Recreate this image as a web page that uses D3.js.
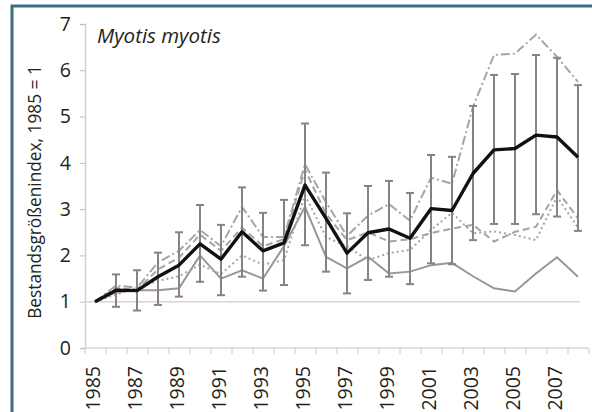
<!DOCTYPE html>
<html><head><meta charset="utf-8">
<script src="https://cdn.jsdelivr.net/npm/d3@7"></script>
<style>
html,body{margin:0;padding:0;background:#fff;}
svg{display:block;}
text{font-family:"Open Sans","Noto Sans",sans-serif;fill:#231f20;}
</style></head>
<body>
<svg id="chart" width="592" height="412"></svg>
<script>
const years = d3.range(1985, 2009);
const tickYears = [1985,1987,1989,1991,1993,1995,1997,1999,2001,2003,2005,2007];
const yTicks = [0,1,2,3,4,5,6,7];
const meanIndex = [1, 1.25, 1.24, 1.54, 1.79, 2.25, 1.92, 2.51, 2.1, 2.27, 3.52, 2.8, 2.05, 2.49, 2.57, 2.37, 3.01, 2.97, 3.77, 4.28, 4.31, 4.6, 4.56, 4.12];
const upperCI = [null, 1.59, 1.68, 2.06, 2.5, 3.09, 2.66, 3.47, 2.92, 3.2, 4.85, 3.79, 2.91, 3.5, 3.61, 3.35, 4.17, 4.13, 5.23, 5.9, 5.92, 6.33, 6.27, 5.68];
const lowerCI = [null, 0.89, 0.81, 0.93, 1.11, 1.43, 1.14, 1.54, 1.24, 1.36, 2.22, 1.65, 1.18, 1.47, 1.54, 1.38, 1.83, 1.81, 2.33, 2.68, 2.68, 2.89, 2.84, 2.53];
const seriesSolid = [1, 1.2, 1.25, 1.25, 1.29, 2.0, 1.5, 1.68, 1.5, 2.2, 3.05, 1.97, 1.72, 1.97, 1.61, 1.65, 1.79, 1.84, 1.55, 1.29, 1.22, 1.61, 1.96, 1.54];
const seriesDashDot = [1, 1.35, 1.3, 1.85, 2.1, 2.55, 2.2, 3.05, 2.4, 2.4, 3.97, 3.15, 2.42, 2.86, 3.11, 2.75, 3.68, 3.55, 5.21, 6.33, 6.36, 6.77, 6.29, 5.75];
const seriesDashed = [1, 1.3, 1.25, 1.7, 1.95, 2.45, 2.1, 2.6, 2.2, 2.35, 3.85, 2.9, 2.33, 2.5, 2.3, 2.35, 2.48, 2.58, 2.66, 2.3, 2.51, 2.62, 3.41, 2.8];
const seriesDotted = [1, 1.15, 1.3, 1.45, 1.55, 1.8, 1.6, 2.0, 1.8, 1.9, 3.3, 2.4, 2.19, 1.9, 2.05, 2.12, 2.55, 2.92, 2.48, 2.52, 2.44, 2.33, 3.27, 2.6];

const svg = d3.select("#chart");
const x = d3.scaleLinear().domain([1985, 2008]).range([95, 578]);
const y = d3.scaleLinear().domain([0, 7]).range([348, 24]);

// frame (top and left edges visible)
svg.append("path").attr("d","M12,420V6H600")
  .attr("fill","none").attr("stroke","#3e6a84").attr("stroke-width",3);

// y axis
const yAxis = d3.axisLeft(y).tickValues(yTicks).tickSize(5).tickPadding(9).tickFormat(d3.format("d"));
const ya = svg.append("g").attr("transform","translate(85,0)").call(yAxis);
ya.select(".domain").attr("stroke","#d8cccc").attr("stroke-width",1.5);
ya.selectAll(".tick line").attr("stroke","#c8bcbc");
ya.selectAll(".tick text").attr("font-size",19.5).attr("fill","#231f20").attr("font-family","'Open Sans',sans-serif");

// x axis
const xAxis = d3.axisBottom(x).tickValues(d3.range(1984.5, 2009, 1)).tickSize(6).tickFormat("");
const xa = svg.append("g").attr("transform","translate(0,348)").call(xAxis);
xa.select(".domain").attr("stroke","#ddd3d3").attr("stroke-width",1.5).attr("d","M85,0H588");
xa.selectAll(".tick line").attr("stroke","#d0c6c6");

svg.append("g").selectAll("text").data(tickYears).join("text")
  .attr("transform", d => `translate(${x(d)+5},366) rotate(-90)`)
  .attr("text-anchor","end").attr("font-size",19.5).text(d => d);

// reference line at 1
svg.append("line").attr("x1",85).attr("x2",580).attr("y1",y(1)).attr("y2",y(1))
  .attr("stroke","#e2cfcb").attr("stroke-width",1.5);

// y title
svg.append("text").attr("transform",`translate(41,192) rotate(-90)`)
  .attr("text-anchor","middle").attr("font-size",17.3).text("Bestandsgrößenindex, 1985 = 1");

// species title
svg.append("text").attr("x",97).attr("y",43).attr("font-size",20.5).attr("font-style","italic")
  .text("Myotis myotis");

const line = arr => d3.line().defined(d => d != null).x((d,i) => x(years[i])).y(d => y(d))(arr);

svg.append("path").attr("d", line(seriesSolid)).attr("fill","none").attr("stroke","#9a9696").attr("stroke-width",2);
svg.append("path").attr("d", line(seriesDotted)).attr("fill","none").attr("stroke","#aaa4a4").attr("stroke-width",2).attr("stroke-dasharray","2,3");
svg.append("path").attr("d", line(seriesDashed)).attr("fill","none").attr("stroke","#a8a2a2").attr("stroke-width",2).attr("stroke-dasharray","7,4");
svg.append("path").attr("d", line(seriesDashDot)).attr("fill","none").attr("stroke","#aaa4a4").attr("stroke-width",2).attr("stroke-dasharray","9,3,2,3");

// error bars
const eb = svg.append("g").attr("stroke","#8a8282").attr("stroke-width",2);
years.forEach((yr,i) => {
  if (upperCI[i] == null) return;
  eb.append("line").attr("x1",x(yr)).attr("x2",x(yr)).attr("y1",y(upperCI[i])).attr("y2",y(lowerCI[i]));
  eb.append("line").attr("x1",x(yr)-4).attr("x2",x(yr)+4).attr("y1",y(upperCI[i])).attr("y2",y(upperCI[i]));
  eb.append("line").attr("x1",x(yr)-4).attr("x2",x(yr)+4).attr("y1",y(lowerCI[i])).attr("y2",y(lowerCI[i]));
});

svg.append("path").attr("d", line(meanIndex)).attr("fill","none").attr("stroke","#111").attr("stroke-width",3.4).attr("stroke-linejoin","round");
</script>
</body></html>
